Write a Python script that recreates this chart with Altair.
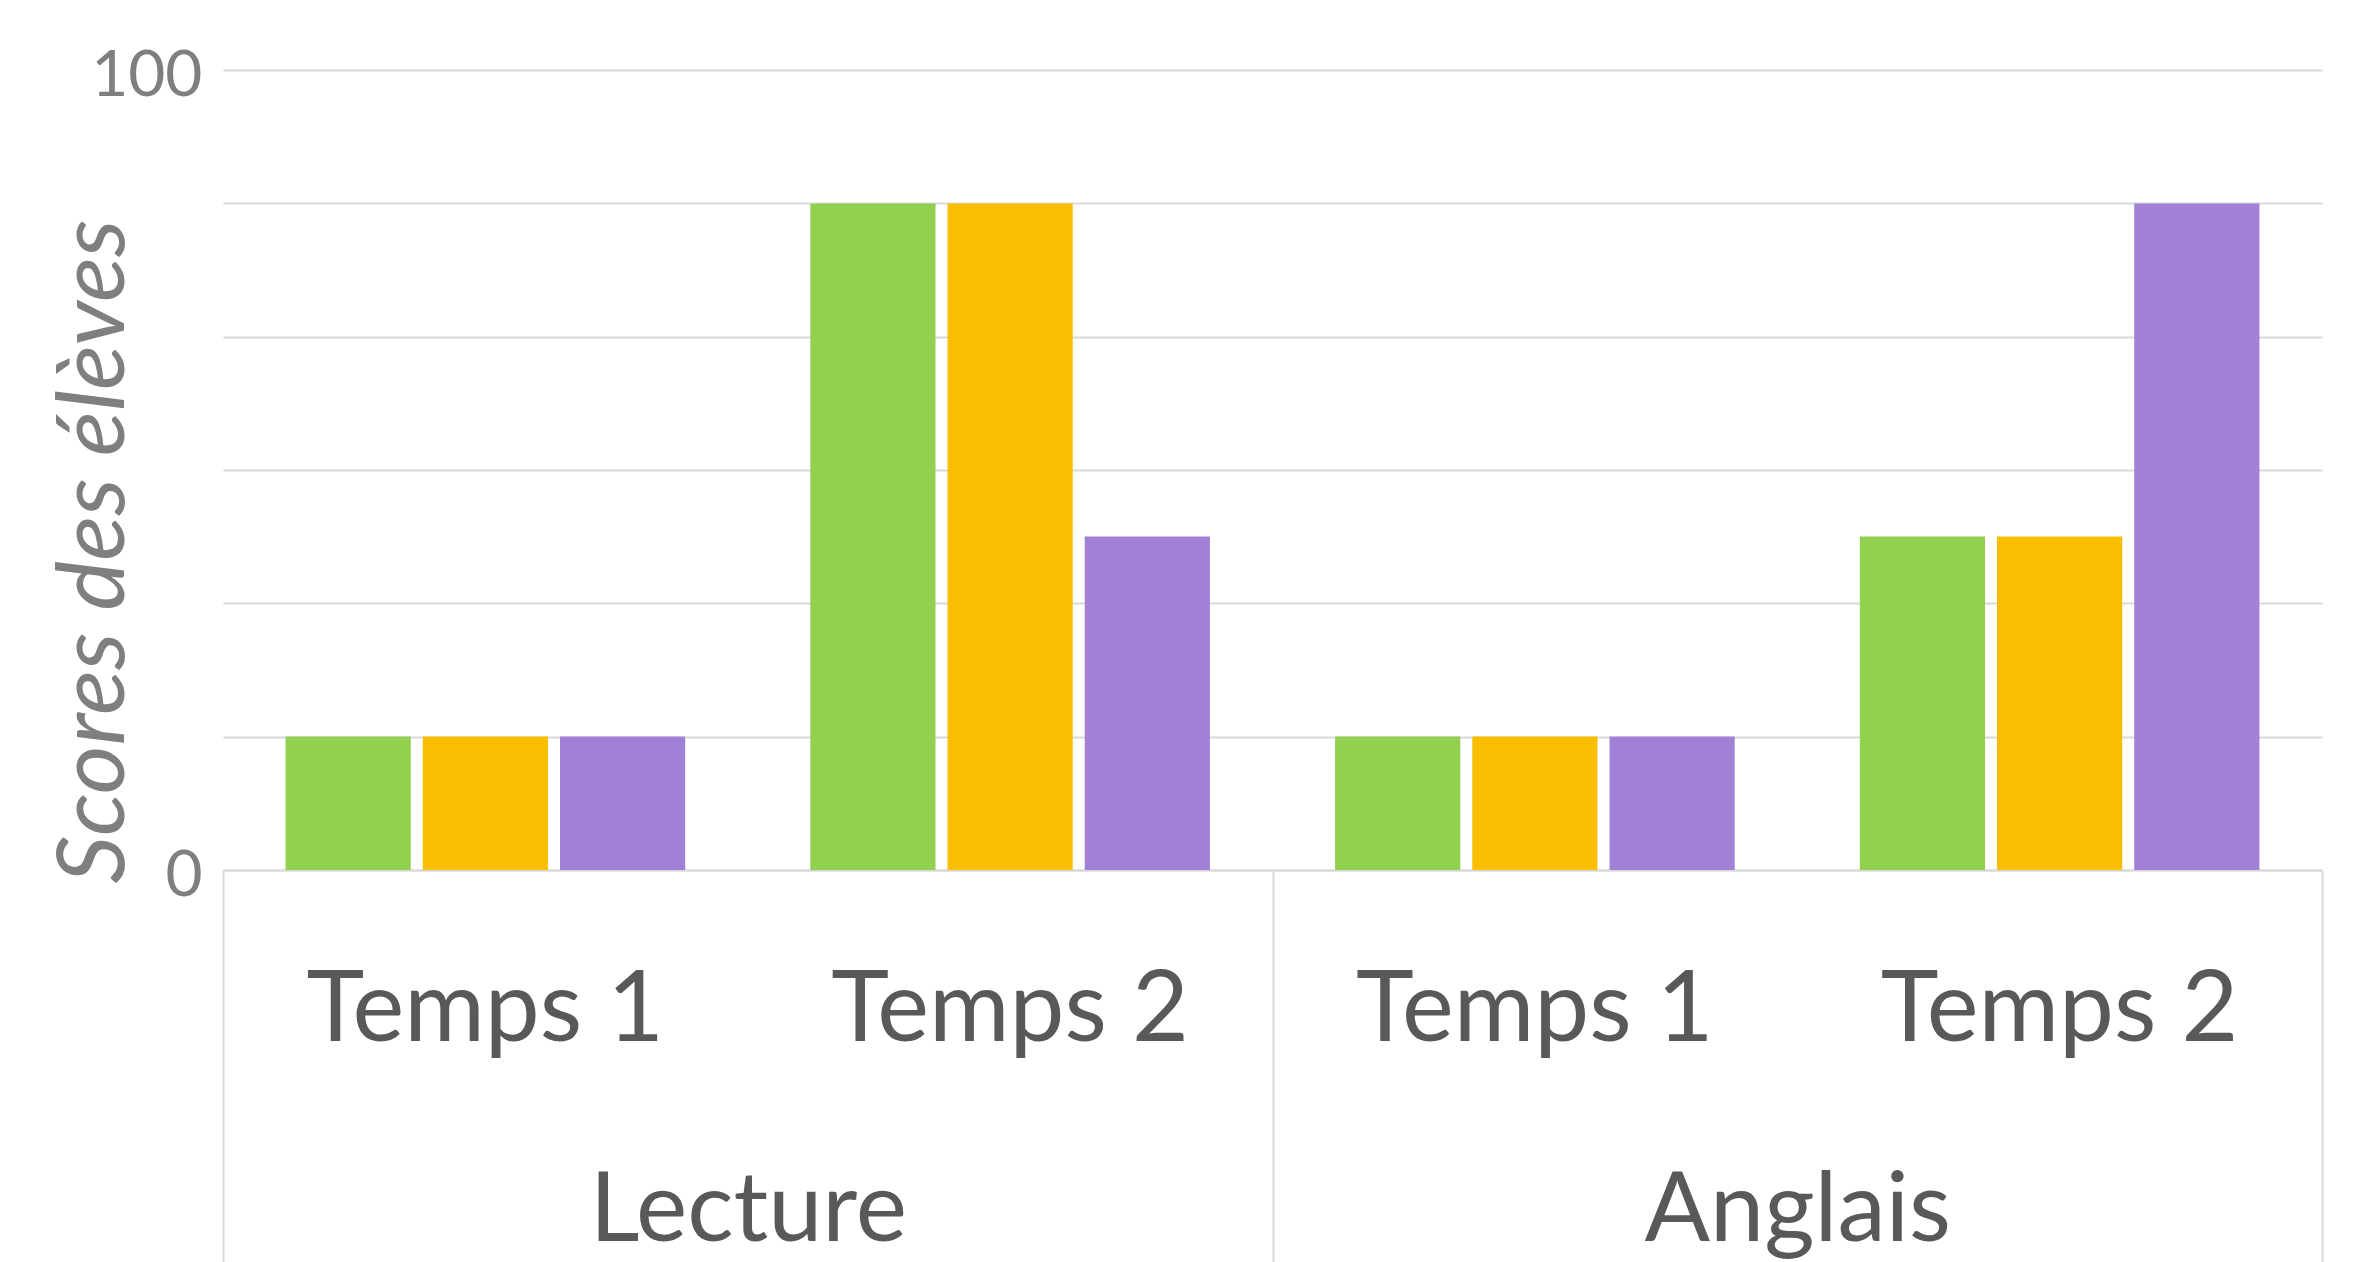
import altair as alt
import pandas as pd

# ---- data ----
subjects = ["Lecture", "Anglais"]
temps = ["Temps 1", "Temps 2"]
series = ["Série 1", "Série 2", "Série 3"]
colors = ["#92D050", "#F9BE00", "#A181D5"]

# values per series, in order Lecture/T1, Lecture/T2, Anglais/T1, Anglais/T2
serie1 = [16.7, 83.3, 16.7, 41.7]
serie2 = [16.7, 83.3, 16.7, 41.7]
serie3 = [16.7, 41.7, 16.7, 83.3]

y_grid = [0, 16.67, 33.33, 50, 66.67, 83.33, 100]
y_labels = [0, 100]
y_title = "Scores des élèves"

groups = [f"{s}|{t}" for s in subjects for t in temps]
rows = []
for name, vals in zip(series, [serie1, serie2, serie3]):
    for g, v in zip(groups, vals):
        rows.append({"group": g, "serie": name, "value": v})
df = pd.DataFrame(rows)
subj_df = pd.DataFrame({"subject": subjects})

FONT = "Lato"

bars = alt.Chart(df).mark_bar().encode(
    x=alt.X(
        "group:N",
        sort=groups,
        scale=alt.Scale(paddingInner=0, paddingOuter=0),
        axis=alt.Axis(
            orient="bottom",
            title=None,
            labelExpr="split(datum.label, '|')[1]",
            labelFont=FONT,
            labelFontSize=98,
            labelColor="#595959",
            labelBaseline="alphabetic",
            labelPadding=170,
            labelAngle=0,
            labelLimit=0,
            labelOverlap=False,
            ticks=False,
            domain=False,
            grid=False,
        ),
    ),
    xOffset=alt.XOffset(
        "serie:N",
        sort=series,
        scale=alt.Scale(paddingInner=0.0876, paddingOuter=0.456),
    ),
    y=alt.Y(
        "value:Q",
        scale=alt.Scale(domain=[0, 100], nice=False),
        axis=alt.Axis(
            values=y_grid,
            labelExpr="(datum.value == 0 || datum.value == 100) ? datum.label : ''",
            labelFont=FONT,
            labelFontSize=64,
            labelColor="#7F7F7F",
            labelPadding=21,
            labelOffset=6,
            ticks=False,
            domain=False,
            grid=True,
            gridColor="#D9D9D9",
            gridWidth=2,
            title=y_title,
            titleFont=FONT,
            titleFontSize=94,
            titleFontStyle="italic",
            titleFontWeight="normal",
            titleColor="#7F7F7F",
            titleAngle=270,
            titleAlign="center",
            titleBaseline="alphabetic",
            titleX=-100,
            titleY=481,
            titleLimit=0,
        ),
    ),
    color=alt.Color(
        "serie:N", sort=series,
        scale=alt.Scale(domain=series, range=colors), legend=None
    ),
)

subj_axis = alt.Chart(subj_df).mark_point(opacity=0).encode(
    x=alt.X(
        "subject:N",
        sort=subjects,
        scale=alt.Scale(paddingInner=0, paddingOuter=0),
        axis=alt.Axis(
            orient="bottom",
            title=None,
            labelFont=FONT,
            labelFontSize=97,
            labelColor="#595959",
            labelBaseline="alphabetic",
            labelPadding=-50,
            labelAngle=0,
            labelLimit=0,
            labelOverlap=False,
            ticks=True,
            tickBand="extent",
            tickSize=420,
            tickColor="#D9D9D9",
            tickWidth=2,
            domain=True,
            domainColor="#D9D9D9",
            domainWidth=2,
            grid=False,
        ),
    ),
)

chart = (
    alt.layer(bars, subj_axis)
    .resolve_scale(x="independent")
    .properties(
        width=2099,
        height=800,
        autosize=alt.AutoSizeParams(type="none"),
        padding={"left": 215, "top": 62, "right": 30, "bottom": 392},
        background="white",
    )
    .configure_view(stroke=None)
)

chart.save("out.html", embed_options={"renderer": "svg", "actions": False})
